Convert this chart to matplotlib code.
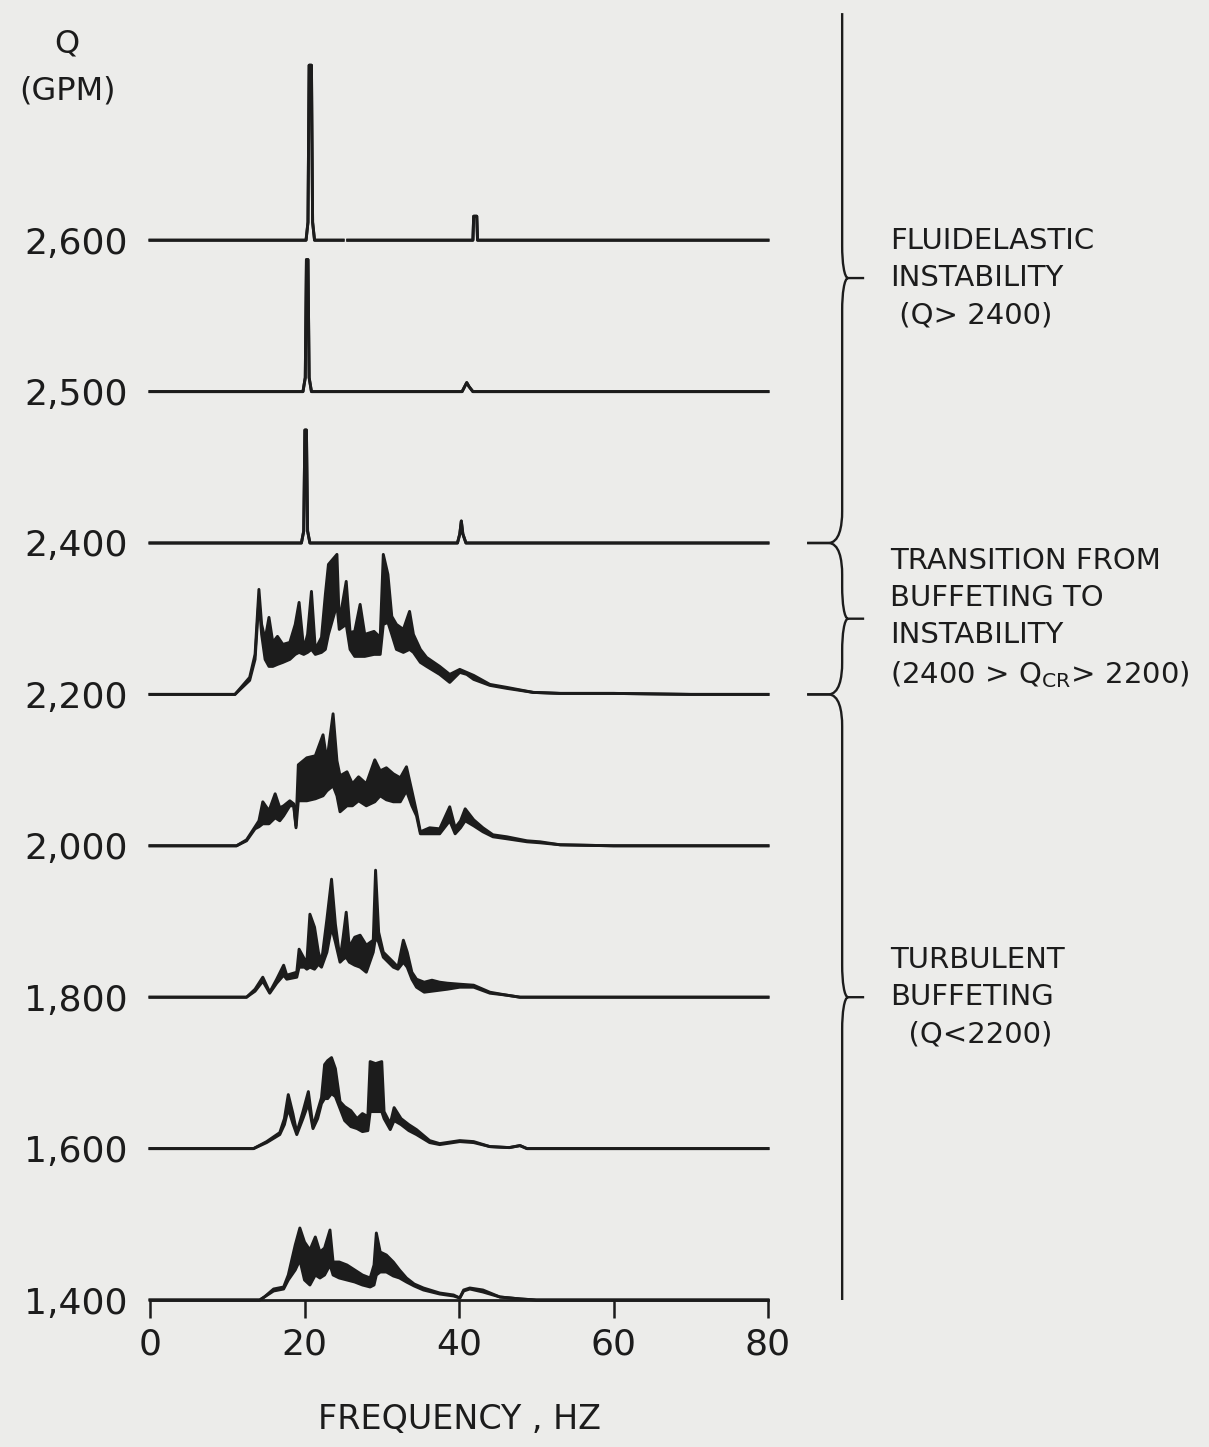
import numpy as np
import matplotlib.pyplot as plt
from matplotlib.path import Path
from matplotlib.patches import PathPatch
from matplotlib.transforms import blended_transform_factory

# flow rate of each trace, bottom to top (traces are stacked on equal spacing)
flow_labels = ['1,400', '1,600', '1,800', '2,000', '2,200', '2,400', '2,500', '2,600']
freq_ticks = [0, 20, 40, 60, 80]

# spectra: (frequency Hz, upper trace, lower trace)
# amplitude in arbitrary units (about 151 units between two baselines)
q1400 = [(0, 0, 0), (14.2, 0, 0), (14.8, 3, 3), (16.0, 11, 9), (17.3, 13, 11), (17.9, 25, 20),
         (18.8, 55, 30), (19.4, 72, 40), (20.0, 58, 20), (20.7, 50, 15), (21.4, 63, 25),
         (22.0, 48, 22), (22.6, 52, 25), (23.3, 70, 35), (23.7, 38, 25), (24.5, 38, 22),
         (25.5, 35, 20), (26.5, 30, 18), (27.5, 25, 15), (28.5, 22, 13), (29.0, 35, 15),
         (29.3, 67, 25), (29.8, 48, 28), (30.6, 45, 28), (31.5, 38, 24), (32.3, 30, 22),
         (33.2, 22, 18), (34.2, 16, 14), (35.4, 12, 10), (37.5, 7, 6), (39.3, 5, 4),
         (40.1, 2, 2), (40.6, 10, 9), (41.4, 12, 11), (43.1, 10, 8), (45.3, 3, 3),
         (48.0, 1, 1), (50.0, 0, 0), (80, 0, 0)]

q1600 = [(0, 0, 0), (13.4, 0, 0), (15.1, 7, 6), (16.8, 16, 14), (17.4, 30, 24), (17.9, 54, 40),
         (18.5, 35, 25), (19.0, 16, 14), (19.8, 37, 30), (20.5, 57, 45), (21.1, 22, 20),
         (21.7, 38, 30), (22.2, 51, 45), (22.6, 84, 50), (23.0, 88, 50), (23.5, 91, 55),
         (24.0, 80, 52), (24.6, 47, 40), (25.2, 42, 28), (26.0, 38, 22), (26.8, 30, 20),
         (27.5, 35, 17), (28.2, 32, 18), (28.5, 87, 37), (29.2, 85, 37), (30.0, 87, 37),
         (30.3, 37, 30), (31.1, 25, 19), (31.6, 41, 28), (32.5, 30, 24), (33.5, 24, 18),
         (34.5, 19, 14), (36.2, 8, 6), (37.5, 5, 4), (40.1, 8, 7), (41.9, 7, 6), (44.0, 2, 2),
         (46.5, 1, 1), (47.9, 3, 3), (48.8, 0, 0), (80, 0, 0)]

q1800 = [(0, 0, 0), (12.5, 0, 0), (13.6, 8, 6), (14.6, 20, 16), (15.5, 5, 4), (16.4, 18, 14),
         (17.3, 32, 22), (17.7, 22, 18), (19.0, 25, 20), (19.3, 48, 30), (20.0, 38, 30),
         (20.3, 35, 28), (20.7, 83, 30), (21.3, 70, 28), (21.8, 45, 33), (22.2, 35, 30),
         (22.9, 78, 45), (23.5, 118, 70), (24.0, 73, 55), (24.6, 38, 35), (25.0, 60, 38),
         (25.4, 85, 40), (25.8, 50, 35), (26.5, 60, 32), (27.2, 62, 30), (28.0, 52, 25),
         (28.9, 57, 45), (29.2, 127, 60), (29.6, 65, 55), (30.2, 45, 40), (31.5, 35, 30),
         (32.1, 30, 28), (32.8, 57, 35), (33.3, 45, 30), (33.9, 25, 18), (34.5, 18, 10),
         (35.5, 15, 5), (36.5, 17, 6), (37.5, 15, 7), (38.5, 14, 8), (40.1, 13, 10),
         (41.9, 12, 10), (44.0, 5, 4), (46.2, 2, 2), (47.9, 0, 0), (80, 0, 0)]

q2000 = [(0, 0, 0), (11.2, 0, 0), (12.5, 6, 5), (13.6, 19, 17), (14.1, 25, 19), (14.6, 44, 22),
         (15.4, 35, 22), (16.2, 52, 28), (16.8, 38, 25), (17.3, 40, 30), (18.1, 45, 40),
         (18.6, 42, 40), (18.9, 20, 18), (19.2, 81, 45), (20.3, 88, 45), (21.4, 90, 47),
         (22.4, 111, 50), (22.9, 85, 55), (23.7, 132, 60), (24.2, 85, 50), (24.6, 70, 34),
         (25.5, 74, 40), (26.2, 62, 40), (27.0, 69, 45), (28.0, 62, 40), (29.1, 86, 44),
         (29.8, 75, 50), (30.6, 78, 46), (31.5, 72, 44), (32.4, 68, 44), (33.2, 79, 55),
         (33.9, 55, 40), (34.5, 34, 30), (35.0, 14, 12), (36.2, 18, 12), (37.5, 17, 12),
         (38.8, 39, 25), (39.5, 18, 12), (40.2, 25, 18), (40.8, 37, 25), (41.9, 26, 20),
         (43.1, 18, 14), (44.4, 11, 9), (46.2, 9, 7), (48.8, 5, 4), (50.5, 4, 3),
         (53.1, 1, 1), (60, 0, 0), (80, 0, 0)]

q2200 = [(0, 0, 0), (11.0, 0, 0), (12.9, 17, 14), (13.6, 40, 35), (14.1, 105, 95), (14.45, 70, 60),
         (14.9, 55, 35), (15.4, 77, 28), (15.9, 52, 28), (16.5, 58, 30), (17.2, 50, 32),
         (18.1, 52, 35), (18.8, 70, 40), (19.3, 92, 42), (19.9, 45, 40), (20.4, 60, 42),
         (20.9, 103, 45), (21.4, 45, 40), (22.2, 57, 42), (22.7, 100, 45), (23.1, 130, 60),
         (24.2, 140, 90), (24.5, 72, 65), (25.4, 113, 70), (25.9, 62, 45), (26.5, 63, 38),
         (27.2, 90, 38), (27.8, 60, 38), (29.0, 63, 40), (29.8, 57, 40), (30.2, 140, 70),
         (30.8, 120, 72), (31.3, 78, 60), (31.9, 70, 45), (32.8, 65, 42), (33.6, 83, 45),
         (34.1, 60, 42), (35.0, 45, 32), (35.8, 37, 28), (37.5, 28, 20), (38.8, 20, 12),
         (40.1, 25, 22), (41.0, 22, 20), (41.9, 19, 15), (44.0, 10, 9), (46.2, 7, 6),
         (49.6, 2, 2), (53.1, 1, 1), (60, 1, 1), (70, 0, 0), (80, 0, 0)]

q2400 = [(0, 0, 0), (19.6, 0, 0), (19.9, 12, 12), (20.05, 113, 113), (20.25, 113, 113),
         (20.4, 12, 12), (20.7, 0, 0), (39.8, 0, 0), (40.1, 9, 9), (40.3, 22, 22),
         (40.5, 9, 9), (40.9, 0, 0), (80, 0, 0)]

q2500 = [(0, 0, 0), (19.8, 0, 0), (20.1, 14, 14), (20.25, 132, 132), (20.45, 132, 132),
         (20.6, 14, 14), (20.9, 0, 0), (40.4, 0, 0), (40.8, 6, 6), (41.0, 9, 9),
         (41.3, 5, 5), (41.8, 0, 0), (80, 0, 0)]

nan = float('nan')
q2600 = [(0, 0, 0), (20.2, 0, 0), (20.45, 18, 18), (20.6, 175, 175), (20.9, 175, 175),
         (21.05, 18, 18), (21.3, 0, 0), (25.0, 0, 0), (25.3, nan, nan), (25.6, 0, 0),
         (41.8, 0, 0), (41.9, 24, 24), (42.3, 24, 24), (42.4, 0, 0), (80, 0, 0)]

spectra = [q1400, q1600, q1800, q2000, q2200, q2400, q2500, q2600]

# regime brackets: (lowest row, highest row, label)
regimes = [
    (5, 8.5, 'FLUIDELASTIC\nINSTABILITY\n (Q> 2400)'),
    (4, 5, 'TRANSITION FROM\nBUFFETING TO\nINSTABILITY\n(2400 > Q$_{\\mathrm{CR}}$> 2200)'),
    (0, 4, 'TURBULENT\nBUFFETING\n  (Q<2200)'),
]

ink = '#1c1c1c'
bg = '#ececea'
row = 151.4          # amplitude units per row

plt.rcParams['font.family'] = ['DejaVu Sans']

fig = plt.figure(figsize=(12.09, 14.47), dpi=100, facecolor=bg)
ax = fig.add_axes([150 / 1209, 147 / 1447, 618 / 1209, 1260 / 1447])
ax.set_facecolor(bg)
ax.set_xlim(0, 80)
ax.set_ylim(0, 1260 / row)

# waterfall of spectra
for i, rows in enumerate(spectra):
    f, hi, lo = np.array(rows, dtype=float).T
    ax.fill_between(f, i + lo / row, i + hi / row, color=ink, lw=0)
    ax.plot(f, i + hi / row, color=ink, lw=2.1, clip_on=False)
    ax.plot(f, i + lo / row, color=ink, lw=2.1, clip_on=False)

# axes
for s in ['left', 'top', 'right']:
    ax.spines[s].set_visible(False)
ax.spines['bottom'].set_linewidth(2)
ax.spines['bottom'].set_color(ink)

ax.set_xticks(freq_ticks)
ax.tick_params(axis='x', direction='out', length=13, width=1.8, pad=7,
               labelsize=26, colors=ink)
ax.set_yticks(range(len(flow_labels)), flow_labels)
ax.tick_params(axis='y', length=0, pad=16, labelsize=26, colors=ink)

ax.set_xlabel('FREQUENCY , HZ', fontsize=24, labelpad=30, color=ink)

tr = blended_transform_factory(ax.transAxes, ax.transData)
ax.text(-0.134, 8.14, 'Q\n(GPM)', transform=tr, ha='center', va='center',
        fontsize=23, linespacing=1.65, color=ink, clip_on=False)


# curly brackets on the right
def brace(y_bot, y_top, curl_bot, curl_top):
    x0 = 1.12
    h = 16 / row

    def P(dx, y):
        return (x0 + dx / 618, y)

    ym = (y_bot + y_top) / 2
    verts, codes = [], []
    if curl_top:
        verts += [P(-35, y_top), P(-14, y_top)]
        codes += [Path.MOVETO, Path.LINETO]
        verts += [P(-3, y_top), P(0, y_top - h), P(0, y_top - 2 * h)]
        codes += [Path.CURVE4] * 3
    else:
        verts += [P(0, y_top)]
        codes += [Path.MOVETO]
    verts += [P(0, ym + 2 * h)]
    codes += [Path.LINETO]
    verts += [P(0, ym + h), P(2, ym), P(6, ym)]
    codes += [Path.CURVE4] * 3
    verts += [P(22, ym), P(6, ym)]
    codes += [Path.LINETO, Path.MOVETO]
    verts += [P(2, ym), P(0, ym - h), P(0, ym - 2 * h)]
    codes += [Path.CURVE4] * 3
    if curl_bot:
        verts += [P(0, y_bot + 2 * h)]
        codes += [Path.LINETO]
        verts += [P(0, y_bot + h), P(-3, y_bot), P(-14, y_bot)]
        codes += [Path.CURVE4] * 3
        verts += [P(-35, y_bot)]
        codes += [Path.LINETO]
    else:
        verts += [P(0, y_bot)]
        codes += [Path.LINETO]
    ax.add_patch(PathPatch(Path(verts, codes), transform=tr, fill=False,
                           edgecolor=ink, lw=1.7, clip_on=False))
    return ym


for lo_row, hi_row, label in regimes:
    ym = brace(lo_row, hi_row, curl_bot=lo_row > 0, curl_top=hi_row < 8)
    ax.text(1.197, ym, label, transform=tr, ha='left', va='center', fontsize=21,
            linespacing=1.42, color=ink, clip_on=False)

plt.savefig('out.png', dpi=100, facecolor=bg)
